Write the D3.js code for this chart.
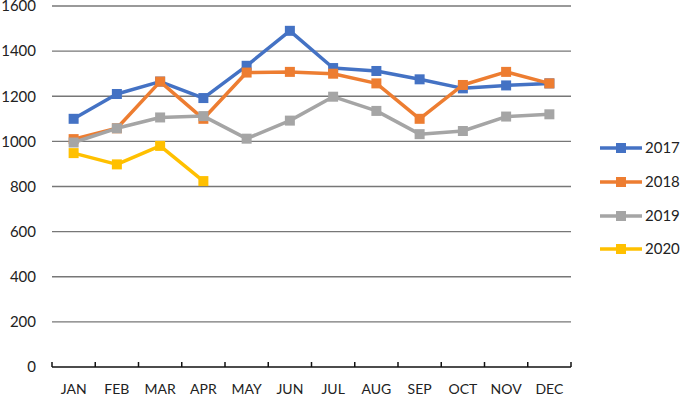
<!DOCTYPE html>
<html>
<head>
<meta charset="utf-8">
<script src="https://cdn.jsdelivr.net/npm/d3@7"></script>
<style>
  body { margin: 0; background: #fff; }
  text { font-family: Lato, "Open Sans", sans-serif; fill: #222; }
</style>
</head>
<body>
<svg id="chart" width="683" height="397"></svg>
<script>
var months = ["JAN", "FEB", "MAR", "APR", "MAY", "JUN", "JUL", "AUG", "SEP", "OCT", "NOV", "DEC"]
var years = ["2017", "2018", "2019", "2020"]
var v2017 = [1100, 1210, 1265, 1192, 1335, 1490, 1325, 1312, 1275, 1235, 1248, 1257]
var v2018 = [1010, 1058, 1265, 1100, 1305, 1308, 1300, 1257, 1100, 1250, 1308, 1257]
var v2019 = [995, 1058, 1106, 1112, 1012, 1092, 1198, 1135, 1032, 1046, 1110, 1120]
var v2020 = [948, 898, 980, 824]
var yTicks = [0, 200, 400, 600, 800, 1000, 1200, 1400, 1600]
var colors = ["#4472C4", "#ED7D31", "#A5A5A5", "#FFC000"]

var seriesList = [v2017, v2018, v2019, v2020].map(function(vals, i) {
    return { name: years[i], color: colors[i], values: vals }
})

var svg = d3.select("#chart")
var plotLeft = 52, plotRight = 571, plotTop = 6, plotBottom = 367

var x = d3.scaleBand().domain(months).range([plotLeft, plotRight])
var y = d3.scaleLinear().domain([0, 1600]).range([plotBottom, plotTop])

// gridlines
svg.append("g")
    .selectAll("line")
    .data(yTicks.filter(function(d) { return d > 0 }))
    .enter().append("line")
    .attr("x1", plotLeft).attr("x2", plotRight)
    .attr("y1", function(d) { return y(d) })
    .attr("y2", function(d) { return y(d) })
    .attr("stroke", "#777")
    .attr("stroke-width", 1.3)

// y labels
svg.append("g")
    .selectAll("text")
    .data(yTicks)
    .enter().append("text")
    .attr("x", 36)
    .attr("y", function(d) { return y(d) })
    .attr("dy", "0.35em")
    .attr("text-anchor", "end")
    .style("font-size", "15px")
    .text(function(d) { return d })

// x axis
svg.append("line")
    .attr("x1", plotLeft).attr("x2", plotRight)
    .attr("y1", plotBottom).attr("y2", plotBottom)
    .attr("stroke", "#111").attr("stroke-width", 1.5)

var tickPos = months.map(function(m) { return x(m) }).concat([plotRight])
svg.append("g")
    .selectAll("line")
    .data(tickPos)
    .enter().append("line")
    .attr("x1", function(d) { return d }).attr("x2", function(d) { return d })
    .attr("y1", plotBottom - 5).attr("y2", plotBottom)
    .attr("stroke", "#111").attr("stroke-width", 1.5)

svg.append("g")
    .selectAll("text")
    .data(months)
    .enter().append("text")
    .attr("x", function(d) { return x(d) + x.bandwidth() / 2 })
    .attr("y", 389)
    .attr("dy", "0.35em")
    .attr("text-anchor", "middle")
    .style("font-size", "14px")
    .text(function(d) { return d })

var line = d3.line()
    .x(function(d, i) { return x(months[i]) + x.bandwidth() / 2 })
    .y(function(d) { return y(d) })

var ms = 10

seriesList.forEach(function(s) {
    var g = svg.append("g")
    g.append("path")
        .datum(s.values)
        .attr("d", line)
        .attr("fill", "none")
        .attr("stroke", s.color)
        .attr("stroke-width", 3.5)
        .attr("stroke-linejoin", "round")
    g.selectAll("rect")
        .data(s.values)
        .enter().append("rect")
        .attr("x", function(d, i) { return x(months[i]) + x.bandwidth() / 2 - ms / 2 })
        .attr("y", function(d) { return y(d) - ms / 2 })
        .attr("width", ms).attr("height", ms)
        .attr("fill", s.color)
})

// legend
var legendY = [148, 182, 216, 249]
var lg = svg.append("g")
seriesList.forEach(function(s, i) {
    var row = lg.append("g").attr("transform", "translate(600," + legendY[i] + ")")
    row.append("line")
        .attr("x1", 0).attr("x2", 42)
        .attr("stroke", s.color).attr("stroke-width", 3.5)
    row.append("rect")
        .attr("x", 21 - ms / 2).attr("y", -ms / 2)
        .attr("width", ms).attr("height", ms)
        .attr("fill", s.color)
    row.append("text")
        .attr("x", 45).attr("dy", "0.35em")
        .style("font-size", "15px")
        .text(s.name)
})
</script>
</body>
</html>
